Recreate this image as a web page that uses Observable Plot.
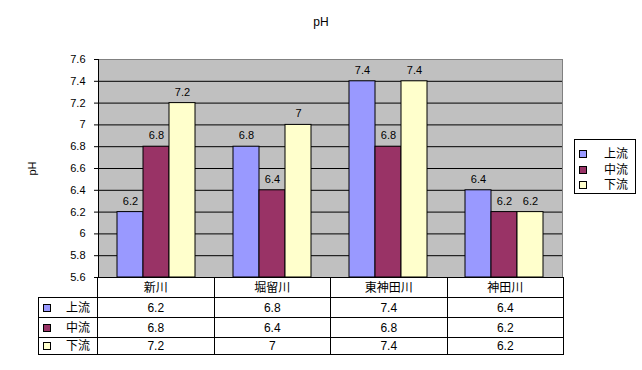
<!DOCTYPE html>
<html>
<head>
<meta charset="utf-8">
<script src="https://cdn.jsdelivr.net/npm/d3@7"></script>
<script src="https://cdn.jsdelivr.net/npm/@observablehq/plot@0.6"></script>
<style>
  html, body { margin: 0; padding: 0; background: #fff; }
  #wrap { position: relative; width: 642px; height: 370px; overflow: hidden;
          font-family: "Liberation Sans", "Noto Sans CJK JP", sans-serif; color: #000; }
  #title { position: absolute; left: 0; width: 642px; top: 15px; text-align: center; font-size: 12px; }
  #chart { position: absolute; left: 0; top: 0; }
  #legend { position: absolute; left: 574px; top: 139px; width: 60px; height: 53px;
            border: 1px solid #000; background: #fff; font-size: 12px; box-sizing: content-box; }
  #legend .row { position: absolute; left: 0; width: 60px; height: 16px; line-height: 16px; }
  #legend .key { position: absolute; left: 4px; top: 4px; width: 6px; height: 6px; border: 1px solid #000; }
  #legend .lab { position: absolute; right: 7px; top: 0; }
  #tbl { position: absolute; left: 38px; top: 277px; border-collapse: collapse; table-layout: fixed;
         font-size: 12px; line-height: 14px; }
  #tbl td { border: 1px solid #000; padding: 0; text-align: center; white-space: nowrap; overflow: hidden; }
  #tbl td.blank { border-top: none; border-left: none; border-bottom: 1px solid #000; }
  #tbl td.leg { position: relative; text-align: right; padding-right: 7px; }
  #tbl td.leg .key { position: absolute; left: 4px; top: 50%; margin-top: -4px; width: 6px; height: 6px; border: 1px solid #000; }
</style>
</head>
<body>
<div id="wrap">
  <div id="chart"></div>
  <div id="title"></div>
  <div id="legend"></div>
  <table id="tbl"></table>
</div>
<script>
// ---- data ----
const chartTitle = "pH";
const yLabel = "pH";
const categories = ["新川", "堀留川", "東神田川", "神田川"];
const seriesNames = ["上流", "中流", "下流"];
const upstream = [6.2, 6.8, 7.4, 6.4];
const midstream = [6.8, 6.4, 6.8, 6.2];
const downstream = [7.2, 7.0, 7.4, 6.2];
const seriesColors = ["#9999FF", "#993366", "#FFFFCC"];
const yTicks = [5.6, 5.8, 6.0, 6.2, 6.4, 6.6, 6.8, 7.0, 7.2, 7.4, 7.6];

const seriesValues = [upstream, midstream, downstream];
const rows = [];
categories.forEach((c, i) => seriesNames.forEach((s, j) => rows.push({category: c, series: s, value: seriesValues[j][i]})));
const fmt = d => String(Math.round(d * 10) / 10);

const yMin = yTicks[0], yMax = yTicks[yTicks.length - 1];

const chart = Plot.plot({
  width: 642,
  height: 280,
  marginTop: 59,
  marginBottom: 3,
  marginLeft: 97,
  marginRight: 79,
  style: {fontFamily: "'Liberation Sans', 'Noto Sans CJK JP', sans-serif", fontSize: "11px", color: "#000", background: "transparent", overflow: "visible"},
  fx: {domain: categories, padding: 0, axis: null},
  x: {domain: seriesNames, paddingInner: 0, paddingOuter: 0.72, axis: null},
  y: {domain: [yMin, yMax], ticks: yTicks, tickFormat: fmt, tickSize: 4, tickPadding: 9,
      label: yLabel, labelAnchor: "center", labelOffset: 70, labelArrow: "none"},
  color: {domain: seriesNames, range: seriesColors},
  marks: [
    Plot.frame({facet: "super", fill: "#C0C0C0", stroke: "#808080"}),
    Plot.gridY(yTicks.slice(0, -1), {stroke: "#000", strokeOpacity: 1}),
    Plot.frame({facet: "super", anchor: "left", stroke: "#000"}),
    Plot.frame({facet: "super", anchor: "bottom", stroke: "#000"}),
    Plot.barY(rows, {fx: "category", x: "series", y1: yMin, y2: "value", fill: "series", stroke: "#000", strokeWidth: 1, inset: 0}),
    Plot.text(rows, {fx: "category", x: "series", y: "value", text: d => fmt(d.value), dy: -11, fill: "#000"})
  ]
});
document.getElementById("chart").appendChild(chart);
document.getElementById("title").textContent = chartTitle;

// legend
const legend = document.getElementById("legend");
seriesNames.forEach((s, j) => {
  const r = document.createElement("div");
  r.className = "row";
  r.style.top = (6 + j * 15.5) + "px";
  r.innerHTML = `<span class="key" style="background:${seriesColors[j]}"></span><span class="lab">${s}</span>`;
  legend.appendChild(r);
});

// data table
const tbl = document.getElementById("tbl");
const colW = [59, 116.5, 116.5, 116.5, 116.5];
const cg = document.createElement("colgroup");
colW.forEach(w => { const c = document.createElement("col"); c.style.width = w + "px"; cg.appendChild(c); });
tbl.appendChild(cg);
const rowH = [20, 20, 20, 17];
const hr = document.createElement("tr");
hr.style.height = rowH[0] + "px";
hr.innerHTML = `<td class="blank"></td>` + categories.map(c => `<td>${c}</td>`).join("");
tbl.appendChild(hr);
seriesNames.forEach((s, j) => {
  const tr = document.createElement("tr");
  tr.style.height = rowH[j + 1] + "px";
  tr.innerHTML = `<td class="leg"><span class="key" style="background:${seriesColors[j]}"></span>${s}</td>` +
    seriesValues[j].map(v => `<td>${fmt(v)}</td>`).join("");
  tbl.appendChild(tr);
});
</script>
</body>
</html>
